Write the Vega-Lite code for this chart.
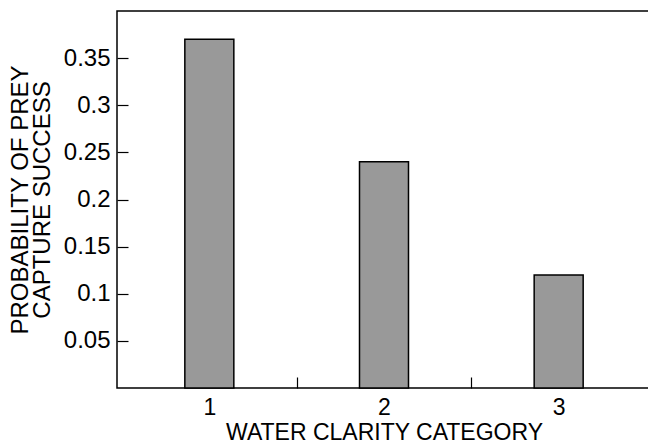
{
  "$schema": "https://vega.github.io/schema/vega-lite/v6.json",
  "autosize": "none",
  "padding": {"left": 117, "top": 11, "right": 0, "bottom": 55},
  "width": 534,
  "height": 377,
  "background": "white",
  "config": {
    "view": {"stroke": "black", "strokeWidth": 1.5},
    "font": "Liberation Sans",
    "axis": {"grid": false, "domain": false, "labelFont": "Liberation Sans", "titleFont": "Liberation Sans", "labelColor": "black", "titleColor": "black", "tickColor": "black", "titleFontWeight": "normal"}
  },
  "data": {"values": [
    {"category": 1, "probability": 0.37},
    {"category": 2, "probability": 0.24},
    {"category": 3, "probability": 0.12}
  ]},
  "mark": {"type": "bar", "fill": "#999999", "stroke": "black", "strokeWidth": 1.5, "size": 49},
  "encoding": {
    "x": {
      "field": "category", "type": "quantitative",
      "scale": {"domain": [0.5, 3.5], "nice": false, "zero": false},
      "axis": {
        "values": [1, 1.5, 2, 2.5, 3],
        "labelExpr": "datum.value % 1 === 0 ? datum.value : ''",
        "tickSize": -11,
        "tickWidth": 1.2,
        "tickOpacity": {"condition": {"test": "datum.value % 1 === 0", "value": 0}, "value": 1},
        "labelPadding": 19,
        "labelFontSize": 23,
        "title": "WATER CLARITY CATEGORY",
        "titleFontSize": 23,
        "titlePadding": 2
      }
    },
    "y": {
      "field": "probability", "type": "quantitative",
      "scale": {"domain": [0, 0.4], "nice": false},
      "axis": {
        "values": [0.05, 0.1, 0.15, 0.2, 0.25, 0.3, 0.35],
        "labelExpr": "replace(format(datum.value, '.2f'), /0$/, '')",
        "tickSize": -11,
        "tickWidth": 1.2,
        "labelPadding": 18,
        "labelFontSize": 24,
        "title": ["PROBABILITY OF PREY", "CAPTURE SUCCESS"],
        "titleFontSize": 24,
        "titleLineHeight": 22,
        "titlePadding": 9
      }
    }
  }
}
